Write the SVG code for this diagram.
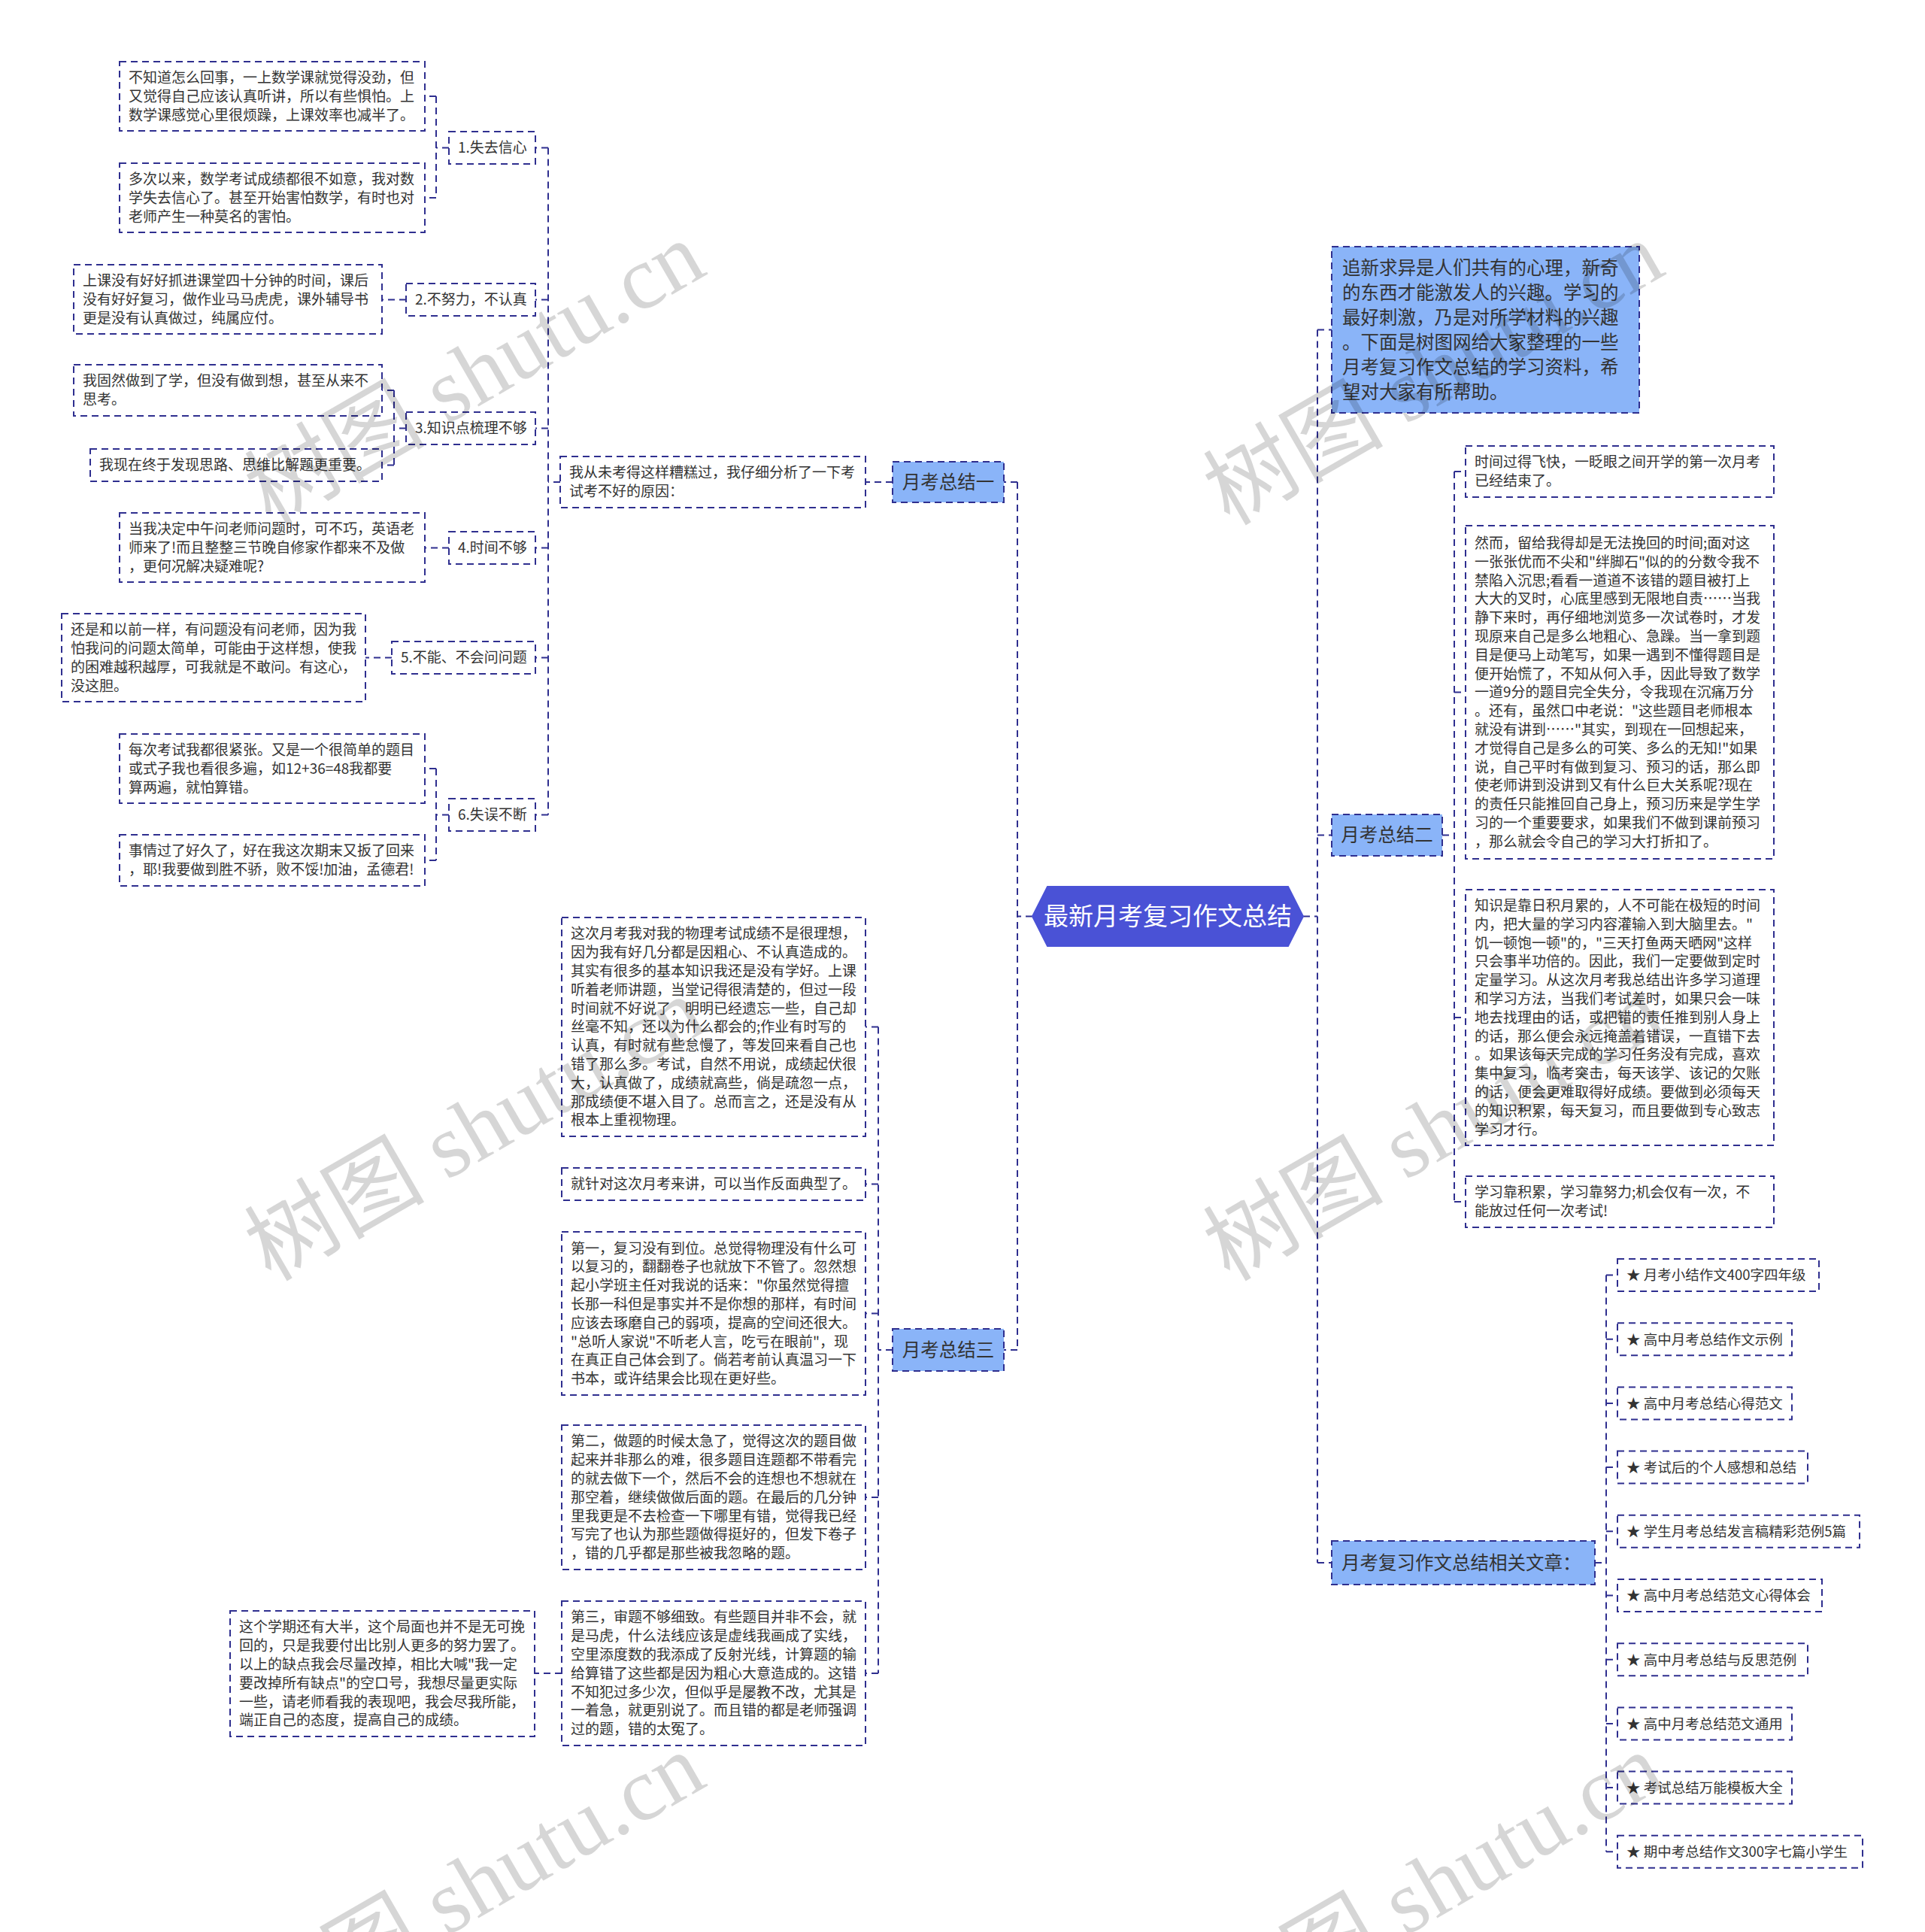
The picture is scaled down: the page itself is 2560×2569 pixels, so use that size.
<svg xmlns="http://www.w3.org/2000/svg" width="2560" height="2569" viewBox="0 0 2560 2569">
<style>
.box{fill:#fff;stroke:#2f2f8f;stroke-width:2;stroke-dasharray:9 6}
.bbox{fill:#8ab4f8;stroke:#2f2f8f;stroke-width:2;stroke-dasharray:9 6}
.c path{fill:none;stroke:#2f2f8f;stroke-width:2;stroke-dasharray:9 6}
.t{font-family:"Noto Sans CJK SC","Noto Sans",sans-serif;font-size:19px;fill:#333}
.lk{font-family:"Noto Sans CJK SC","Noto Sans",sans-serif;font-size:18.5px;fill:#333}
.bt{font-family:"Noto Sans CJK SC","Noto Sans",sans-serif;font-size:24.5px;fill:#333}
.ct{font-family:"Noto Sans CJK SC","Noto Sans",sans-serif;font-size:33px;fill:#fff}
.wm{font-family:"Liberation Serif","Noto Sans CJK SC",serif;font-size:120px;fill:#000;fill-opacity:0.16}
</style>
<rect width="2560" height="2569" fill="#fff"/>
<g class="c" id="connectors">
<path d="M1373,1218.5H1353M1353,641V1795M1353,641H1335M1353,1795H1335"/>
<path d="M1187,641H1151"/>
<path d="M745,641H729M729,196.5V1083.5M729,196.5H712M729,398.5H712M729,569.5H712M729,728.5H712M729,874.5H712M729,1083.5H712"/>
<path d="M597,196.5H580M580,128V263M580,128H565M580,263H565"/>
<path d="M540,398.5H508"/>
<path d="M540,569.5H524M524,519V618.5M524,519H508M524,618.5H508"/>
<path d="M597,728.5H565"/>
<path d="M521,874.5H486"/>
<path d="M597,1083.5H580M580,1022V1144M580,1022H565M580,1144H565"/>
<path d="M1187,1795H1168M1168,1365.5V2225M1168,1365.5H1151M1168,1574.5H1151M1168,1746.5H1151M1168,1991H1151M1168,2225H1151"/>
<path d="M747,2225H711"/>
<path d="M1733,1218.5H1752M1752,438.5V2078M1752,438.5H1771M1752,1110.5H1771M1752,2078H1771"/>
<path d="M1918,1110.5H1934M1934,627V1598M1934,627H1949M1934,920.5H1949M1934,1353H1949M1934,1598H1949"/>
<path d="M2121,2078H2136M2136,1695.5V2462.3M2136,1695.5H2151M2136,1780.7H2151M2136,1865.9H2151M2136,1951.1H2151M2136,2036.3H2151M2136,2121.5H2151M2136,2206.7H2151M2136,2291.9H2151M2136,2377.1H2151M2136,2462.3H2151"/>
</g>

<g id="center">
<polygon points="1373,1218.5 1393,1179 1713,1179 1733,1218.5 1713,1258 1393,1258" fill="#4a52d6" stroke="#4a52d6" stroke-width="2"/>
<text class="ct" x="1553" y="1230" text-anchor="middle">最新月考复习作文总结</text>
</g>

<g id="branch1"><rect class="bbox" x="1187" y="614" width="148" height="54"/><text class="bt" x="1261" y="649.7" text-anchor="middle">月考总结一</text></g>
<g id="branch2"><rect class="bbox" x="1771" y="1083" width="147" height="55"/><text class="bt" x="1844.5" y="1119.2" text-anchor="middle">月考总结二</text></g>
<g id="branch3"><rect class="bbox" x="1187" y="1767" width="148" height="56"/><text class="bt" x="1261" y="1803.7" text-anchor="middle">月考总结三</text></g>
<g id="related"><rect class="bbox" x="1771" y="2049" width="350" height="58"/><text class="bt" x="1784" y="2086.7">月考复习作文总结相关文章：</text></g>

<g id="intro"><rect class="bbox" x="1771" y="328" width="409" height="221"/>
<text class="bt" y="364.7"><tspan x="1785">追新求异是人们共有的心理，新奇</tspan><tspan x="1785" dy="33">的东西才能激发人的兴趣。学习的</tspan><tspan x="1785" dy="33">最好刺激，乃是对所学材料的兴趣</tspan><tspan x="1785" dy="33">。下面是树图网给大家整理的一些</tspan><tspan x="1785" dy="33">月考复习作文总结的学习资料，希</tspan><tspan x="1785" dy="33">望对大家有所帮助。</tspan></text></g>

<g id="boxJ"><rect class="box" x="745" y="607" width="406" height="68"/>
<text class="t" y="635.4"><tspan x="757">我从未考得这样糟糕过，我仔细分析了一下考</tspan><tspan x="757" dy="24.8">试考不好的原因：</tspan></text></g>

<g id="n1"><rect class="box" x="597" y="175" width="115" height="43"/><text class="t" x="609" y="203.3">1.失去信心</text></g>
<g id="n2"><rect class="box" x="540" y="377" width="172" height="43"/><text class="t" x="552" y="405.3">2.不努力，不认真</text></g>
<g id="n3"><rect class="box" x="540" y="548" width="172" height="43"/><text class="t" x="552" y="576.3">3.知识点梳理不够</text></g>
<g id="n4"><rect class="box" x="597" y="707" width="115" height="43"/><text class="t" x="609" y="735.3">4.时间不够</text></g>
<g id="n5"><rect class="box" x="521" y="853" width="191" height="43"/><text class="t" x="533" y="881.3">5.不能、不会问问题</text></g>
<g id="n6"><rect class="box" x="597" y="1062" width="115" height="43"/><text class="t" x="609" y="1090.3">6.失误不断</text></g>

<g id="boxA"><rect class="box" x="159" y="82" width="406" height="92"/>
<text class="t" y="110"><tspan x="171">不知道怎么回事，一上数学课就觉得没劲，但</tspan><tspan x="171" dy="24.8">又觉得自己应该认真听讲，所以有些惧怕。上</tspan><tspan x="171" dy="24.8">数学课感觉心里很烦躁，上课效率也减半了。</tspan></text></g>
<g id="boxB"><rect class="box" x="159" y="217" width="406" height="92"/>
<text class="t" y="245"><tspan x="171">多次以来，数学考试成绩都很不如意，我对数</tspan><tspan x="171" dy="24.8">学失去信心了。甚至开始害怕数学，有时也对</tspan><tspan x="171" dy="24.8">老师产生一种莫名的害怕。</tspan></text></g>
<g id="boxC"><rect class="box" x="98" y="352" width="410" height="92"/>
<text class="t" y="380"><tspan x="110">上课没有好好抓进课堂四十分钟的时间，课后</tspan><tspan x="110" dy="24.8">没有好好复习，做作业马马虎虎，课外辅导书</tspan><tspan x="110" dy="24.8">更是没有认真做过，纯属应付。</tspan></text></g>
<g id="boxD"><rect class="box" x="98" y="485" width="410" height="68"/>
<text class="t" y="513.4"><tspan x="110">我固然做到了学，但没有做到想，甚至从来不</tspan><tspan x="110" dy="24.8">思考。</tspan></text></g>
<g id="boxE"><rect class="box" x="120" y="597" width="388" height="43"/>
<text class="t" x="132" y="625.3">我现在终于发现思路、思维比解题更重要。</text></g>
<g id="boxF"><rect class="box" x="159" y="682" width="406" height="92"/>
<text class="t" y="710"><tspan x="171">当我决定中午问老师问题时，可不巧，英语老</tspan><tspan x="171" dy="24.8">师来了!而且整整三节晚自修家作都来不及做</tspan><tspan x="171" dy="24.8">，更何况解决疑难呢?</tspan></text></g>
<g id="boxG"><rect class="box" x="82" y="816" width="404" height="117"/>
<text class="t" y="844.1"><tspan x="94">还是和以前一样，有问题没有问老师，因为我</tspan><tspan x="94" dy="24.8">怕我问的问题太简单，可能由于这样想，使我</tspan><tspan x="94" dy="24.8">的困难越积越厚，可我就是不敢问。有这心，</tspan><tspan x="94" dy="24.8">没这胆。</tspan></text></g>
<g id="boxH"><rect class="box" x="159" y="976" width="406" height="92"/>
<text class="t" y="1004"><tspan x="171">每次考试我都很紧张。又是一个很简单的题目</tspan><tspan x="171" dy="24.8">或式子我也看很多遍，如12+36=48我都要</tspan><tspan x="171" dy="24.8">算两遍，就怕算错。</tspan></text></g>
<g id="boxI"><rect class="box" x="159" y="1110" width="406" height="68"/>
<text class="t" y="1138.4"><tspan x="171">事情过了好久了，好在我这次期末又扳了回来</tspan><tspan x="171" dy="24.8">，耶!我要做到胜不骄，败不馁!加油，孟德君!</tspan></text></g>

<g id="boxP"><rect class="box" x="747" y="1220" width="404" height="291"/>
<text class="t" y="1248.3"><tspan x="759">这次月考我对我的物理考试成绩不是很理想，</tspan><tspan x="759" dy="24.8">因为我有好几分都是因粗心、不认真造成的。</tspan><tspan x="759" dy="24.8">其实有很多的基本知识我还是没有学好。上课</tspan><tspan x="759" dy="24.8">听着老师讲题，当堂记得很清楚的，但过一段</tspan><tspan x="759" dy="24.8">时间就不好说了，明明已经遗忘一些，自己却</tspan><tspan x="759" dy="24.8">丝毫不知，还以为什么都会的;作业有时写的</tspan><tspan x="759" dy="24.8">认真，有时就有些怠慢了，等发回来看自己也</tspan><tspan x="759" dy="24.8">错了那么多。考试，自然不用说，成绩起伏很</tspan><tspan x="759" dy="24.8">大，认真做了，成绩就高些，倘是疏忽一点，</tspan><tspan x="759" dy="24.8">那成绩便不堪入目了。总而言之，还是没有从</tspan><tspan x="759" dy="24.8">根本上重视物理。</tspan></text></g>
<g id="boxQ"><rect class="box" x="747" y="1553" width="404" height="43"/>
<text class="t" x="759" y="1581.3">就针对这次月考来讲，可以当作反面典型了。</text></g>
<g id="boxR"><rect class="box" x="747" y="1638" width="404" height="217"/>
<text class="t" y="1666.5"><tspan x="759">第一，复习没有到位。总觉得物理没有什么可</tspan><tspan x="759" dy="24.8">以复习的，翻翻卷子也就放下不管了。忽然想</tspan><tspan x="759" dy="24.8">起小学班主任对我说的话来："你虽然觉得擅</tspan><tspan x="759" dy="24.8">长那一科但是事实并不是你想的那样，有时间</tspan><tspan x="759" dy="24.8">应该去琢磨自己的弱项，提高的空间还很大。</tspan><tspan x="759" dy="24.8">"总听人家说"不听老人言，吃亏在眼前"，现</tspan><tspan x="759" dy="24.8">在真正自己体会到了。倘若考前认真温习一下</tspan><tspan x="759" dy="24.8">书本，或许结果会比现在更好些。</tspan></text></g>
<g id="boxS"><rect class="box" x="747" y="1895" width="404" height="192"/>
<text class="t" y="1923.4"><tspan x="759">第二，做题的时候太急了，觉得这次的题目做</tspan><tspan x="759" dy="24.8">起来并非那么的难，很多题目连题都不带看完</tspan><tspan x="759" dy="24.8">的就去做下一个，然后不会的连想也不想就在</tspan><tspan x="759" dy="24.8">那空着，继续做做后面的题。在最后的几分钟</tspan><tspan x="759" dy="24.8">里我更是不去检查一下哪里有错，觉得我已经</tspan><tspan x="759" dy="24.8">写完了也认为那些题做得挺好的，但发下卷子</tspan><tspan x="759" dy="24.8">，错的几乎都是那些被我忽略的题。</tspan></text></g>
<g id="boxT"><rect class="box" x="747" y="2129" width="404" height="192"/>
<text class="t" y="2157.4"><tspan x="759">第三，审题不够细致。有些题目并非不会，就</tspan><tspan x="759" dy="24.8">是马虎，什么法线应该是虚线我画成了实线，</tspan><tspan x="759" dy="24.8">空里添度数的我添成了反射光线，计算题的输</tspan><tspan x="759" dy="24.8">给算错了这些都是因为粗心大意造成的。这错</tspan><tspan x="759" dy="24.8">不知犯过多少次，但似乎是屡教不改，尤其是</tspan><tspan x="759" dy="24.8">一着急，就更别说了。而且错的都是老师强调</tspan><tspan x="759" dy="24.8">过的题，错的太冤了。</tspan></text></g>
<g id="boxU"><rect class="box" x="306" y="2142" width="405" height="167"/>
<text class="t" y="2170.3"><tspan x="318">这个学期还有大半，这个局面也并不是无可挽</tspan><tspan x="318" dy="24.8">回的，只是我要付出比别人更多的努力罢了。</tspan><tspan x="318" dy="24.8">以上的缺点我会尽量改掉，相比大喊"我一定</tspan><tspan x="318" dy="24.8">要改掉所有缺点"的空口号，我想尽量更实际</tspan><tspan x="318" dy="24.8">一些，请老师看我的表现吧，我会尽我所能，</tspan><tspan x="318" dy="24.8">端正自己的态度，提高自己的成绩。</tspan></text></g>

<g id="boxK"><rect class="box" x="1949" y="593" width="410" height="68"/>
<text class="t" y="621.4"><tspan x="1961">时间过得飞快，一眨眼之间开学的第一次月考</tspan><tspan x="1961" dy="24.8">已经结束了。</tspan></text></g>
<g id="boxL"><rect class="box" x="1949" y="699" width="410" height="443"/>
<text class="t" y="728.9"><tspan x="1961">然而，留给我得却是无法挽回的时间;面对这</tspan><tspan x="1961" dy="24.8">一张张优而不尖和"绊脚石"似的的分数令我不</tspan><tspan x="1961" dy="24.8">禁陷入沉思;看看一道道不该错的题目被打上</tspan><tspan x="1961" dy="24.8">大大的叉时，心底里感到无限地自责……当我</tspan><tspan x="1961" dy="24.8">静下来时，再仔细地浏览多一次试卷时，才发</tspan><tspan x="1961" dy="24.8">现原来自己是多么地粗心、急躁。当一拿到题</tspan><tspan x="1961" dy="24.8">目是便马上动笔写，如果一遇到不懂得题目是</tspan><tspan x="1961" dy="24.8">便开始慌了，不知从何入手，因此导致了数学</tspan><tspan x="1961" dy="24.8">一道9分的题目完全失分，令我现在沉痛万分</tspan><tspan x="1961" dy="24.8">。还有，虽然口中老说："这些题目老师根本</tspan><tspan x="1961" dy="24.8">就没有讲到……"其实，到现在一回想起来，</tspan><tspan x="1961" dy="24.8">才觉得自己是多么的可笑、多么的无知!"如果</tspan><tspan x="1961" dy="24.8">说，自己平时有做到复习、预习的话，那么即</tspan><tspan x="1961" dy="24.8">使老师讲到没讲到又有什么巨大关系呢?现在</tspan><tspan x="1961" dy="24.8">的责任只能推回自己身上，预习历来是学生学</tspan><tspan x="1961" dy="24.8">习的一个重要要求，如果我们不做到课前预习</tspan><tspan x="1961" dy="24.8">，那么就会令自己的学习大打折扣了。</tspan></text></g>
<g id="boxM"><rect class="box" x="1949" y="1183" width="410" height="340"/>
<text class="t" y="1211"><tspan x="1961">知识是靠日积月累的，人不可能在极短的时间</tspan><tspan x="1961" dy="24.8">内，把大量的学习内容灌输入到大脑里去。"</tspan><tspan x="1961" dy="24.8">饥一顿饱一顿"的，"三天打鱼两天晒网"这样</tspan><tspan x="1961" dy="24.8">只会事半功倍的。因此，我们一定要做到定时</tspan><tspan x="1961" dy="24.8">定量学习。从这次月考我总结出许多学习道理</tspan><tspan x="1961" dy="24.8">和学习方法，当我们考试差时，如果只会一味</tspan><tspan x="1961" dy="24.8">地去找理由的话，或把错的责任推到别人身上</tspan><tspan x="1961" dy="24.8">的话，那么便会永远掩盖着错误，一直错下去</tspan><tspan x="1961" dy="24.8">。如果该每天完成的学习任务没有完成，喜欢</tspan><tspan x="1961" dy="24.8">集中复习，临考突击，每天该学、该记的欠账</tspan><tspan x="1961" dy="24.8">的话，便会更难取得好成绩。要做到必须每天</tspan><tspan x="1961" dy="24.8">的知识积累，每天复习，而且要做到专心致志</tspan><tspan x="1961" dy="24.8">学习才行。</tspan></text></g>
<g id="boxN"><rect class="box" x="1949" y="1564" width="410" height="68"/>
<text class="t" y="1592.4"><tspan x="1961">学习靠积累，学习靠努力;机会仅有一次，不</tspan><tspan x="1961" dy="24.8">能放过任何一次考试!</tspan></text></g>

<g id="link1"><rect class="box" x="2151" y="1674" width="268" height="43"/><text class="lk" x="2163" y="1702.3">★ 月考小结作文400字四年级</text></g>
<g id="link2"><rect class="box" x="2151" y="1759.2" width="232" height="43"/><text class="lk" x="2163" y="1787.5">★ 高中月考总结作文示例</text></g>
<g id="link3"><rect class="box" x="2151" y="1844.4" width="232" height="43"/><text class="lk" x="2163" y="1872.7">★ 高中月考总结心得范文</text></g>
<g id="link4"><rect class="box" x="2151" y="1929.6" width="253" height="43"/><text class="lk" x="2163" y="1957.9">★ 考试后的个人感想和总结</text></g>
<g id="link5"><rect class="box" x="2151" y="2014.8" width="322" height="43"/><text class="lk" x="2163" y="2043.1">★ 学生月考总结发言稿精彩范例5篇</text></g>
<g id="link6"><rect class="box" x="2151" y="2100" width="272" height="43"/><text class="lk" x="2163" y="2128.3">★ 高中月考总结范文心得体会</text></g>
<g id="link7"><rect class="box" x="2151" y="2185.2" width="253" height="43"/><text class="lk" x="2163" y="2213.5">★ 高中月考总结与反思范例</text></g>
<g id="link8"><rect class="box" x="2151" y="2270.4" width="232" height="43"/><text class="lk" x="2163" y="2298.7">★ 高中月考总结范文通用</text></g>
<g id="link9"><rect class="box" x="2151" y="2355.6" width="232" height="43"/><text class="lk" x="2163" y="2383.9">★ 考试总结万能模板大全</text></g>
<g id="link10"><rect class="box" x="2151" y="2440.8" width="326" height="43"/><text class="lk" x="2163" y="2469.1">★ 期中考总结作文300字七篇小学生</text></g>

<g id="watermarks">
<text class="wm" transform="translate(360,700) rotate(-30)">树图 shutu.cn</text>
<text class="wm" transform="translate(1635,700) rotate(-30)">树图 shutu.cn</text>
<text class="wm" transform="translate(360,1705) rotate(-30)">树图 shutu.cn</text>
<text class="wm" transform="translate(1635,1705) rotate(-30)">树图 shutu.cn</text>
<text class="wm" transform="translate(360,2710) rotate(-30)">树图 shutu.cn</text>
<text class="wm" transform="translate(1635,2710) rotate(-30)">树图 shutu.cn</text>
</g>
</svg>
